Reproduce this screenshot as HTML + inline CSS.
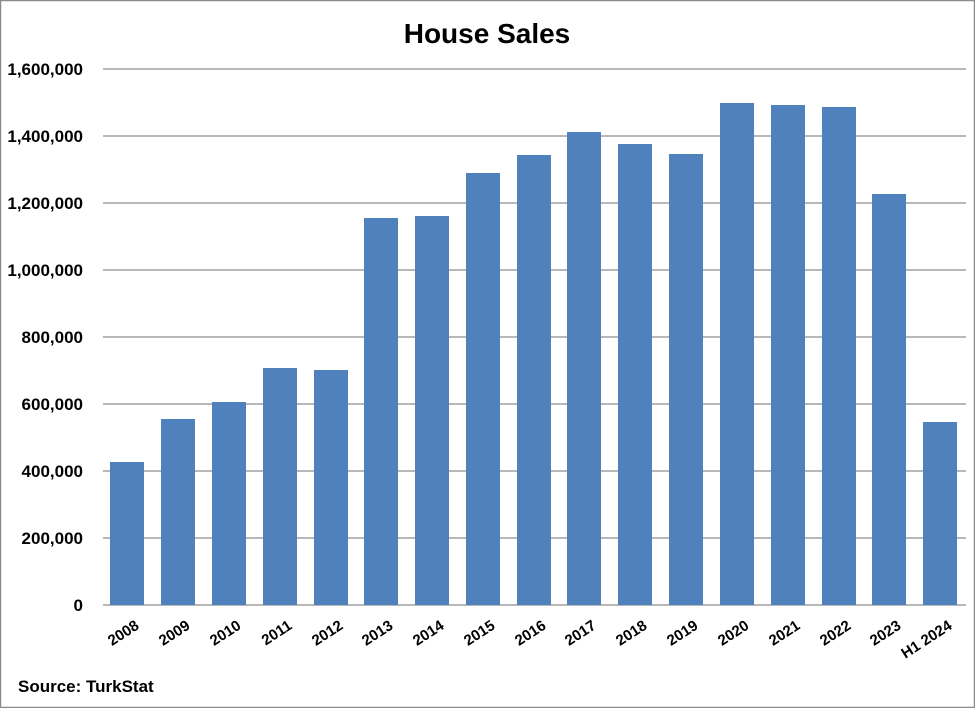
<!DOCTYPE html>
<html><head><meta charset="utf-8"><style>
html,body{margin:0;padding:0;background:#fff}
</style></head><body>
<svg width="975" height="708" xmlns="http://www.w3.org/2000/svg" font-family="Liberation Sans, sans-serif" font-weight="bold">
<rect x="0.5" y="0.5" width="974" height="707" fill="#fff" stroke="#8c8c8c" stroke-width="1.5"/>
<text x="487" y="43" text-anchor="middle" font-size="28">House Sales</text>
<g stroke="#a0a0a0" stroke-width="1.5">
<line x1="103" x2="966" y1="69" y2="69"/><line x1="103" x2="966" y1="136" y2="136"/>
<line x1="103" x2="966" y1="203" y2="203"/><line x1="103" x2="966" y1="270" y2="270"/>
<line x1="103" x2="966" y1="337" y2="337"/><line x1="103" x2="966" y1="404" y2="404"/>
<line x1="103" x2="966" y1="471" y2="471"/><line x1="103" x2="966" y1="538" y2="538"/>
<line x1="103" x2="966" y1="605" y2="605"/>
</g>
<g font-size="17" text-anchor="end">
<text x="83" y="75">1,600,000</text><text x="83" y="142">1,400,000</text>
<text x="83" y="209">1,200,000</text><text x="83" y="276">1,000,000</text>
<text x="83" y="343">800,000</text><text x="83" y="410">600,000</text>
<text x="83" y="477">400,000</text><text x="83" y="544">200,000</text>
<text x="83" y="611">0</text>
</g>
<g fill="#4f81bd">
<rect x="110" y="462" width="34" height="143"/>
<rect x="161" y="419" width="34" height="186"/>
<rect x="212" y="402" width="34" height="203"/>
<rect x="263" y="368" width="34" height="237"/>
<rect x="314" y="370" width="34" height="235"/>
<rect x="364" y="218" width="34" height="387"/>
<rect x="415" y="216" width="34" height="389"/>
<rect x="466" y="173" width="34" height="432"/>
<rect x="517" y="155" width="34" height="450"/>
<rect x="567" y="132" width="34" height="473"/>
<rect x="618" y="144" width="34" height="461"/>
<rect x="669" y="154" width="34" height="451"/>
<rect x="720" y="103" width="34" height="502"/>
<rect x="771" y="105" width="34" height="500"/>
<rect x="822" y="107" width="34" height="498"/>
<rect x="872" y="194" width="34" height="411"/>
<rect x="923" y="422" width="34" height="183"/>
</g>
<g font-size="15" text-anchor="end">
<text transform="translate(140,628) rotate(-33)">2008</text>
<text transform="translate(191,628) rotate(-33)">2009</text>
<text transform="translate(242,628) rotate(-33)">2010</text>
<text transform="translate(293,628) rotate(-33)">2011</text>
<text transform="translate(344,628) rotate(-33)">2012</text>
<text transform="translate(394,628) rotate(-33)">2013</text>
<text transform="translate(445,628) rotate(-33)">2014</text>
<text transform="translate(496,628) rotate(-33)">2015</text>
<text transform="translate(547,628) rotate(-33)">2016</text>
<text transform="translate(597,628) rotate(-33)">2017</text>
<text transform="translate(648,628) rotate(-33)">2018</text>
<text transform="translate(699,628) rotate(-33)">2019</text>
<text transform="translate(750,628) rotate(-33)">2020</text>
<text transform="translate(801,628) rotate(-33)">2021</text>
<text transform="translate(852,628) rotate(-33)">2022</text>
<text transform="translate(902,628) rotate(-33)">2023</text>
<text transform="translate(953,628) rotate(-33)">H1 2024</text>
</g>
<text x="18" y="692" font-size="17">Source: TurkStat</text>
</svg>
</body></html>
